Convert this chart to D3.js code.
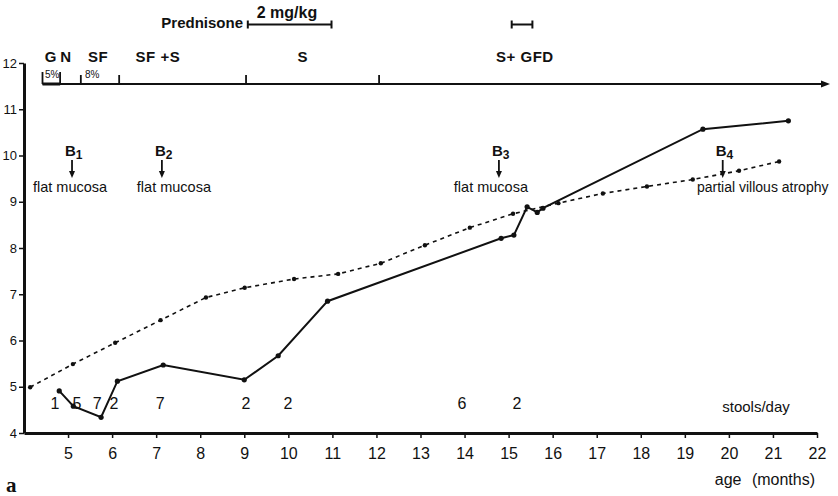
<!DOCTYPE html>
<html>
<head>
<meta charset="utf-8">
<script src="https://cdn.jsdelivr.net/npm/d3@7"></script>
<style>
  body { margin: 0; background: #fff; }
  text { font-family: "Liberation Sans", Arial, sans-serif; fill: #111; }
</style>
</head>
<body>
<div id="chart"></div>
<script>
// Patient weight (solid line)
var weightAge = [4.80, 5.12, 5.75, 6.12, 7.16, 9.00, 9.77, 10.89, 14.83, 15.12, 15.42, 15.65, 15.78, 19.41, 21.35];
var weightKg = [4.91, 4.58, 4.34, 5.12, 5.47, 5.15, 5.67, 6.85, 8.21, 8.28, 8.89, 8.77, 8.86, 10.57, 10.75];

// Reference curve (dashed line)
var refAge = [4.14, 5.11, 6.07, 7.10, 8.13, 9.01, 10.13, 11.13, 12.10, 13.10, 14.12, 15.10, 16.13, 17.14, 18.14, 19.18, 20.23, 21.14];
var refKg = [4.99, 5.49, 5.95, 6.44, 6.93, 7.14, 7.33, 7.44, 7.67, 8.06, 8.44, 8.74, 8.97, 9.18, 9.33, 9.48, 9.67, 9.87];

// Stools per day
var stoolAge = [4.70, 5.20, 5.66, 6.04, 7.09, 9.04, 9.99, 13.94, 15.19];
var stoolCount = ["1", "5", "7", "2", "7", "2", "2", "6", "2"];

// Biopsies
var biopsyAge = [5.09, 7.13, 14.78, 19.86];
var biopsyIndex = ["1", "2", "3", "4"];
var biopsyFinding = ["flat mucosa", "flat mucosa", "flat mucosa", "partial villous atrophy"];

// Diet phases on the top time bar
var phaseTicks = [4.42, 4.82, 5.29, 6.16, 9.04, 12.06];
var phaseLabelAge = [4.61, 4.95, 5.68, 7.04, 10.33, 15.37];
var phaseLabels = ["G", "N", "SF", "SF +S", "S", "S+ GFD"];
var percentAge = [4.64, 5.55];
var percentLabels = ["5%", "8%"];

// Prednisone periods
var prednisoneStart = [9.08, 15.07];
var prednisoneEnd = [10.98, 15.54];

// axes ticks
var xTicks = d3.range(5, 23);
var yTicks = d3.range(4, 13);

var svgWidth = 838;
var svgHeight = 496;

var svg = d3.select("#chart")
  .append("svg")
  .attr("width", svgWidth)
  .attr("height", svgHeight);

var x = d3.scaleLinear().domain([4, 22]).range([24, 817]);
var y = d3.scaleLinear().domain([4, 12]).range([433, 63]);

// y axis
var yAxis = svg.append("g")
  .attr("transform", "translate(24,0)")
  .call(d3.axisLeft(y).tickValues(yTicks).tickSize(5).tickSizeOuter(0).tickPadding(2));
yAxis.select(".domain").attr("stroke", "#111").attr("stroke-width", 3);
yAxis.selectAll(".tick line").attr("stroke", "#111").attr("stroke-width", 1.5);
yAxis.selectAll("text").attr("font-size", 13).attr("font-family", "Liberation Sans, Arial, sans-serif").attr("fill", "#111");

// x axis
var xAxis = svg.append("g")
  .attr("transform", "translate(0,433)")
  .call(d3.axisBottom(x).tickValues(xTicks).tickSize(5).tickSizeOuter(0).tickPadding(10));
xAxis.select(".domain").attr("stroke", "#111").attr("stroke-width", 3);
xAxis.selectAll(".tick line").attr("stroke", "#111").attr("stroke-width", 1.5);
xAxis.selectAll("text").attr("font-size", 16).attr("font-family", "Liberation Sans, Arial, sans-serif").attr("fill", "#111");

// axis titles
svg.append("text")
  .attr("x", 815)
  .attr("y", 485)
  .attr("text-anchor", "end")
  .attr("font-size", 16)
  .attr("word-spacing", 6)
  .text("age (months)");

svg.append("text")
  .attr("x", 6)
  .attr("y", 492)
  .attr("font-size", 21)
  .attr("font-weight", "bold")
  .style("font-family", "Liberation Serif, serif")
  .text("a");

// lines
var weightData = weightAge.map((a, i) => ({ age: a, kg: weightKg[i] }));
var refData = refAge.map((a, i) => ({ age: a, kg: refKg[i] }));

var line = d3.line().x(d => x(d.age)).y(d => y(d.kg));

svg.append("path")
  .datum(refData)
  .attr("d", line)
  .attr("fill", "none")
  .attr("stroke", "#111")
  .attr("stroke-width", 1.6)
  .attr("stroke-dasharray", "4,4");

svg.append("g").selectAll("circle")
  .data(refData)
  .enter()
  .append("circle")
  .attr("cx", d => x(d.age))
  .attr("cy", d => y(d.kg))
  .attr("r", 2.2)
  .attr("fill", "#111");

svg.append("path")
  .datum(weightData)
  .attr("d", line)
  .attr("fill", "none")
  .attr("stroke", "#111")
  .attr("stroke-width", 2);

svg.append("g").selectAll("circle")
  .data(weightData)
  .enter()
  .append("circle")
  .attr("cx", d => x(d.age))
  .attr("cy", d => y(d.kg))
  .attr("r", 2.6)
  .attr("fill", "#111");

// stools/day numbers
svg.append("g").selectAll("text")
  .data(stoolAge)
  .enter()
  .append("text")
  .attr("x", d => x(d))
  .attr("y", 409)
  .attr("text-anchor", "middle")
  .attr("font-size", 16)
  .text((d, i) => stoolCount[i]);

svg.append("text")
  .attr("x", 756)
  .attr("y", 412)
  .attr("text-anchor", "middle")
  .attr("font-size", 15)
  .text("stools/day");

// biopsies
var findingDx = [-2, 12, -8, 40];
biopsyAge.forEach(function(a, i) {
  var bx = x(a);
  var label = svg.append("text")
    .attr("x", bx - 7)
    .attr("y", 156)
    .attr("font-size", 15)
    .attr("font-weight", "bold")
    .text("B");
  label.append("tspan")
    .attr("dy", 3)
    .attr("font-size", 12)
    .text(biopsyIndex[i]);

  svg.append("line")
    .attr("x1", bx).attr("x2", bx)
    .attr("y1", 160).attr("y2", 172)
    .attr("stroke", "#111")
    .attr("stroke-width", 1.8);
  svg.append("path")
    .attr("d", `M${bx - 3},171 L${bx + 3},171 L${bx},178 Z`)
    .attr("fill", "#111");

  svg.append("text")
    .attr("x", bx + findingDx[i])
    .attr("y", 192)
    .attr("text-anchor", "middle")
    .attr("font-size", i == 3 ? 14 : 14.5)
    .text(biopsyFinding[i]);
});

// top time bar with diet phases
svg.append("line")
  .attr("x1", x(phaseTicks[0])).attr("x2", 823)
  .attr("y1", 84).attr("y2", 84)
  .attr("stroke", "#111")
  .attr("stroke-width", 2);
svg.append("line")
  .attr("x1", x(phaseTicks[0])).attr("x2", x(phaseTicks[1]))
  .attr("y1", 84).attr("y2", 84)
  .attr("stroke", "#111")
  .attr("stroke-width", 3);
svg.append("path")
  .attr("d", "M821,80.5 L830,84 L821,87.5 Z")
  .attr("fill", "#111");

svg.append("g").selectAll("line")
  .data(phaseTicks)
  .enter()
  .append("line")
  .attr("x1", d => x(d)).attr("x2", d => x(d))
  .attr("y1", (d, i) => i < 2 ? 72 : 75)
  .attr("y2", 84)
  .attr("stroke", "#111")
  .attr("stroke-width", 1.8);

svg.append("g").selectAll("text")
  .data(phaseLabelAge)
  .enter()
  .append("text")
  .attr("x", d => x(d))
  .attr("y", 62)
  .attr("text-anchor", "middle")
  .attr("font-size", 15)
  .attr("font-weight", "bold")
  .attr("letter-spacing", 0.5)
  .text((d, i) => phaseLabels[i]);

svg.append("g").selectAll("text")
  .data(percentAge)
  .enter()
  .append("text")
  .attr("x", d => x(d))
  .attr("y", 78)
  .attr("text-anchor", "middle")
  .attr("font-size", 10)
  .text((d, i) => percentLabels[i]);

// prednisone
svg.append("text")
  .attr("x", 243)
  .attr("y", 28)
  .attr("text-anchor", "end")
  .attr("font-size", 15)
  .attr("font-weight", "bold")
  .text("Prednisone");

svg.append("text")
  .attr("x", 287)
  .attr("y", 18)
  .attr("text-anchor", "middle")
  .attr("font-size", 16)
  .attr("font-weight", "bold")
  .text("2 mg/kg");

prednisoneStart.forEach(function(s, i) {
  var x1 = x(s), x2 = x(prednisoneEnd[i]), by = 24.5;
  svg.append("line")
    .attr("x1", x1).attr("x2", x2)
    .attr("y1", by).attr("y2", by)
    .attr("stroke", "#111").attr("stroke-width", 2);
  [x1, x2].forEach(function(cx) {
    svg.append("line")
      .attr("x1", cx).attr("x2", cx)
      .attr("y1", by - 4).attr("y2", by + 4)
      .attr("stroke", "#111").attr("stroke-width", 2);
  });
});
</script>
</body>
</html>
